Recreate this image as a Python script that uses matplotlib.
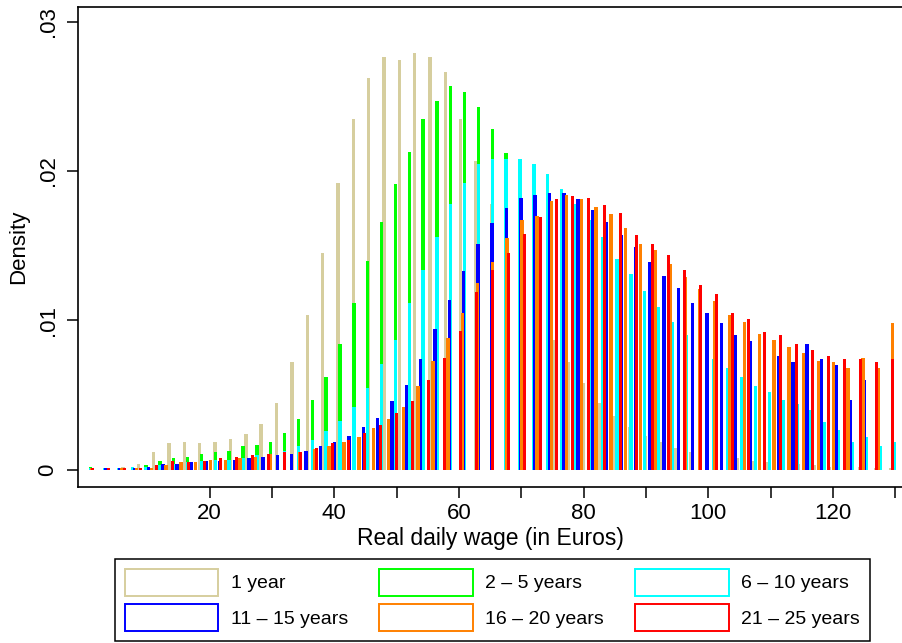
import numpy as np
import matplotlib.pyplot as plt
from matplotlib.patches import Patch

plt.rcParams['font.family'] = ['Liberation Sans', 'DejaVu Sans']

labels = ["1 year", "2 \u2013 5 years", "6 \u2013 10 years",
          "11 \u2013 15 years", "16 \u2013 20 years", "21 \u2013 25 years"]
colors = ['#D6CE9E', '#00FF00', '#00FFFF', '#0000FF', '#FF8000', '#FF0000']

# first bin centre and bin width (euros) of each group's histogram
bin_start = [1.17, 0.91, 0.91, 1.01, 1.11, 1.24]
bin_width = [2.463, 2.222, 2.222, 2.297, 2.379, 2.567]

dens_1 = [.0001, .0001, .0002, .0004, .0012, .0018, .0019, .0018, .0019, .0021,
          .0024, .0031, .0045, .0072, .0104, .0145, .0192, .0235, .0262, .0276,
          .0274, .0279, .0276, .0266, .0235, .0207, .0178, .0150, .0127, .0108,
          .0087, .0072, .0058, .0045, .0036, .0029, .0023, .0019, .0015, .0012,
          .0009, .0008, .0008, .0006, .0005, .0004, .0004, .0003, .0002, .0002,
          .0002, .0001, .0001]
dens_2_5 = [.0002, .0001, .0001, .0002, .0003, .0006, .0008, .0009, .0011, .0012,
            .0013, .0016, .0017, .0019, .0025, .0034, .0047, .0062, .0084, .0112,
            .0140, .0166, .0191, .0213, .0235, .0247, .0257, .0253, .0243, .0228,
            .0212, .0196, .0180, .0164, .0148, .0133, .0119, .0106, .0094, .0083,
            .0073, .0064, .0056, .0049, .0042, .0036, .0031, .0027, .0023, .0020,
            .0017, .0015, .0013, .0011, .0010, .0009, .0008, .0007, .0006]
dens_6_10 = [.0001, .0001, .0001, .0002, .0002, .0003, .0004, .0005, .0006, .0007,
             .0007, .0008, .0010, .0011, .0013, .0016, .0020, .0026, .0033, .0042,
             .0055, .0071, .0087, .0112, .0134, .0156, .0178, .0192, .0205, .0208,
             .0208, .0208, .0205, .0198, .0188, .0178, .0167, .0156, .0141, .0131,
             .0120, .0109, .0099, .0090, .0082, .0074, .0068, .0062, .0056, .0052,
             .0047, .0044, .0040, .0032, .0027, .0019, .0022, .0016, .0019]
dens_11_15 = [.0001, .0001, .0001, .0001, .0002, .0004, .0004, .0005, .0006, .0006,
              .0007, .0008, .0009, .0010, .0011, .0013, .0016, .0019, .0023, .0029,
              .0035, .0046, .0057, .0074, .0094, .0114, .0133, .0151, .0165, .0175,
              .0182, .0184, .0185, .0185, .0181, .0174, .0166, .0157, .0149, .0139,
              .0130, .0122, .0112, .0105, .0098, .0090, .0086, .0080, .0076, .0072,
              .0084, .0074, .0070, .0047, .0060, .0043]
dens_16_20 = [.0001, .0000, .0001, .0001, .0001, .0003, .0005, .0005, .0007, .0007,
              .0008, .0009, .0011, .0011, .0012, .0014, .0016, .0019, .0022, .0028,
              .0034, .0042, .0056, .0073, .0088, .0105, .0125, .0139, .0155, .0167,
              .0170, .0180, .0184, .0181, .0176, .0171, .0162, .0151, .0147, .0138,
              .0129, .0121, .0113, .0104, .0099, .0091, .0087, .0082, .0078, .0073,
              .0072, .0068, .0075, .0068, .0098]
dens_21_25 = [.0001, .0001, .0001, .0001, .0003, .0006, .0005, .0006, .0008, .0009,
              .0010, .0011, .0012, .0012, .0015, .0018, .0020, .0025, .0030, .0038,
              .0046, .0060, .0075, .0093, .0119, .0134, .0145, .0158, .0169, .0181,
              .0183, .0182, .0177, .0172, .0157, .0151, .0144, .0134, .0124, .0118,
              .0105, .0101, .0092, .0090, .0084, .0080, .0076, .0074, .0074, .0072,
              .0074]

series = [dens_1, dens_2_5, dens_6_10, dens_11_15, dens_16_20, dens_21_25]

fig = plt.figure(figsize=(9.02, 6.43), dpi=100)
ax = fig.add_axes([0.0865, 0.2426, 0.9135, 0.7465])

for dens, x0, w, c in zip(series, bin_start, bin_width, colors):
    centres = x0 + w * np.arange(len(dens))
    ax.bar(centres, dens, width=0.55, color=c, edgecolor='none')

ax.set_xlim(-1.12, 131.07)
ax.set_ylim(-0.00114, 0.03097)

ax.set_xticks([20, 40, 60, 80, 100, 120])
ax.set_xticks([30, 50, 70, 90, 110, 130], minor=True)
ax.set_yticks([0, .01, .02, .03])
ax.set_yticklabels(['0', '.01', '.02', '.03'], rotation=90, va='center')
ax.tick_params(which='both', length=8, width=1.1, labelsize=16, direction='out')
ax.tick_params(axis='y', pad=6)
ax.set_xlabel("Real daily wage (in Euros)", fontsize=16.5, labelpad=2)
ax.set_ylabel("Density", fontsize=16, labelpad=6)

for s in ['left', 'bottom', 'top']:
    ax.spines[s].set_linewidth(1.2)
ax.spines['right'].set_visible(False)

handles = [Patch(facecolor='white', edgecolor=c, linewidth=1.4) for c in colors]
order = [0, 3, 1, 4, 2, 5]
leg = fig.legend([handles[i] for i in order], [labels[i] for i in order],
                 ncol=3, loc='center', bbox_to_anchor=(0.546, 0.0669),
                 fontsize=14, handlelength=4.8, handleheight=1.75,
                 handletextpad=0.65, columnspacing=1.6, labelspacing=0.45,
                 borderpad=0.5, fancybox=False, edgecolor='black', framealpha=1)
leg.get_frame().set_linewidth(1.1)

fig.savefig("out.png", dpi=100, facecolor='white')
